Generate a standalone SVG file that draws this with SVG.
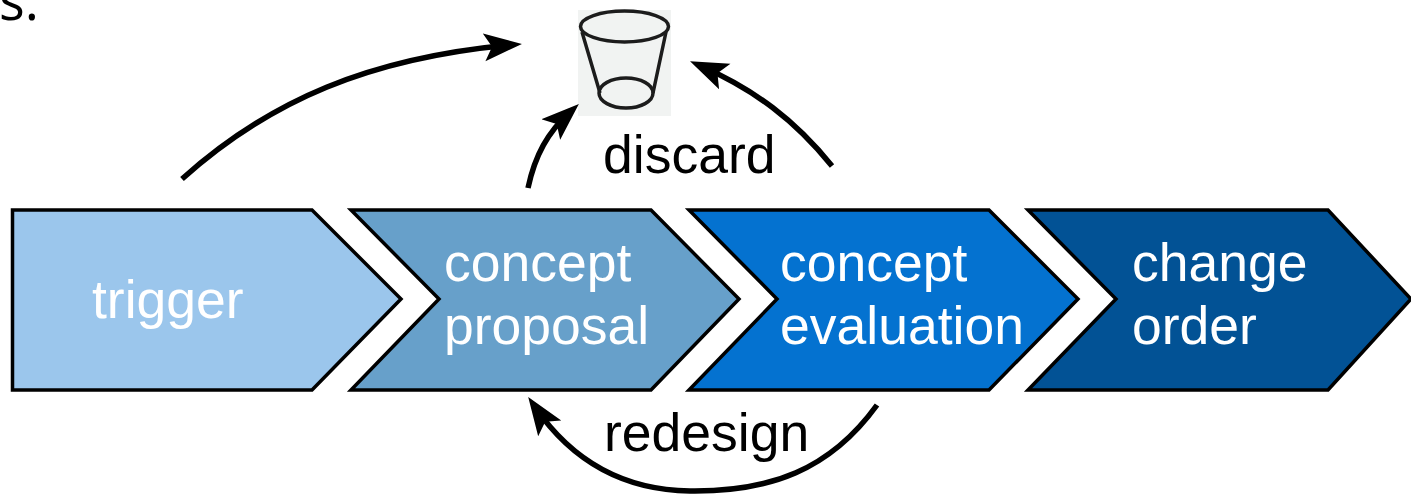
<svg xmlns="http://www.w3.org/2000/svg" width="1411" height="494" viewBox="0 0 1411 494">
<style>
.s{stroke:#000;stroke-width:3.500;stroke-linejoin:miter}
.w{font-family:"Liberation Sans",Arial,sans-serif;font-size:53.500px;fill:#fff}
.k{font-family:"Liberation Sans",Arial,sans-serif;font-size:53.500px;fill:#000}
.c{fill:none;stroke:#000;stroke-width:5.500;marker-end:url(#a)}
.b{stroke:#1c1c1c;stroke-width:3.500;fill:none}
</style>
<defs><marker id="a" markerUnits="userSpaceOnUse" markerWidth="44" markerHeight="32" refX="26" refY="16" orient="auto"><path d="M0 2L38 16L0 30L8 16Z" fill="#000"/></marker></defs>
<rect width="1411" height="494" fill="#fff"/>
<text x="-1" y="20" font-family="Open Sans,sans-serif" font-size="54">s.</text>
<g id="trigger"><path class="s" fill="#9bc6ec" d="M12.500 210H312L401 299L312 390H12.500Z"/><text class="w" x="92" y="318">trigger</text></g>
<g id="proposal"><path class="s" fill="#67a0ca" d="M351 210H651L739 299L651 390H351L439 299Z"/><text class="w" x="444" y="281">concept</text><text class="w" x="444" y="344">proposal</text></g>
<g id="evaluation"><path class="s" fill="#0472d0" d="M689 210H989L1078 299L989 390H689L777 299Z"/><text class="w" x="780" y="281">concept</text><text class="w" x="780" y="344">evaluation</text></g>
<g id="order"><path class="s" fill="#025295" d="M1028 210H1328L1411 299L1328 390H1028L1116 299Z"/><text class="w" x="1132" y="281">change</text><text class="w" x="1132" y="344">order</text></g>
<g id="bin"><rect x="578" y="10" width="93" height="106" fill="#f1f3f2"/><path class="b" d="M582 32L600 93M666 32L653 93"/><path d="M616 42H633" stroke="#fff" stroke-width="3"/><ellipse class="b" cx="624.500" cy="26.500" rx="44" ry="15.500"/><ellipse class="b" cx="626" cy="93" rx="27" ry="15"/></g>
<text class="k" x="603" y="173">discard</text><text class="k" x="604" y="451">redesign</text>
<g id="connectors"><path class="c" d="M182 179C270 100 370 58 510 45"/><path class="c" d="M528 188C535 155 548 132 570 112"/><path class="c" d="M832 166C795 120 755 90 701 66"/><path class="c" d="M877 405C830 470 770 492 690 491C620 490 570 458 535 407"/></g>
</svg>
